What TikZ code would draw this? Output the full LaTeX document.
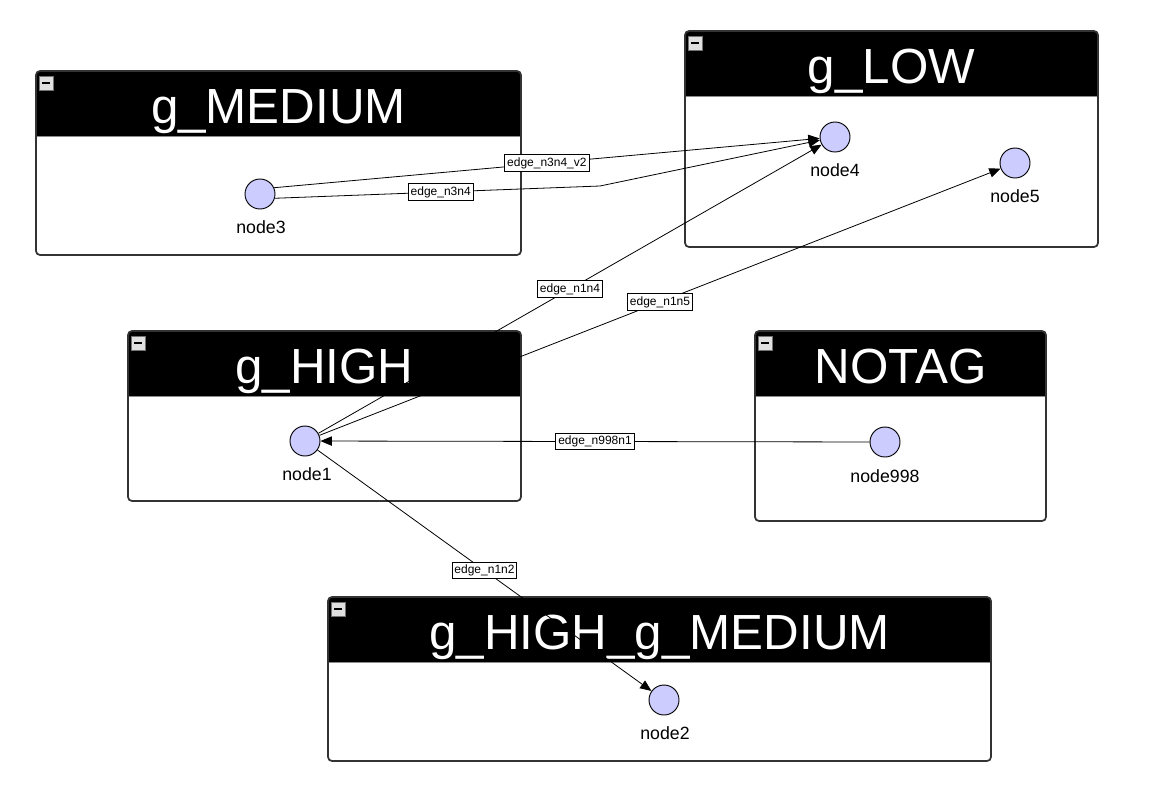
\documentclass[tikz,border=0pt]{standalone}
\usepackage{fontspec}
\setmainfont{Liberation Sans}
\usetikzlibrary{arrows.meta}
\definecolor{vfill}{RGB}{204,204,255}
\tikzset{
  x=0.75pt, y=-0.75pt,
  grpframe/.style={draw=black!80, line width=1.3pt, rounded corners=3pt},
  grptitle/.style={anchor=base, text=white, inner sep=0pt, font=\fontsize{37}{40}\selectfont},
  minusbox/.style={draw=black!55, fill=black!12, minimum size=10.5pt, inner sep=0pt, line width=0.6pt},
  vert/.style={circle, draw=black, fill=vfill, minimum size=22.5pt, inner sep=0pt, line width=0.7pt},
  vlabel/.style={inner sep=0pt, font=\fontsize{13.3}{15}\selectfont},
  elabel/.style={draw=black, fill=white, inner xsep=1.8pt, inner ysep=2pt, line width=0.7pt, font=\fontsize{9}{10}\selectfont},
  conn/.style={draw=black, line width=0.6pt, -{Triangle[length=8.5pt,width=7pt]}},
}
\newcommand\mygroupbox[6]{%
  \begin{scope}
    \clip[rounded corners=3pt] (#1,#2) rectangle (#3,#4);
    \fill[white] (#1,#2) rectangle (#3,#4);
    \fill[black] (#1,#2) rectangle (#3,#2+65);
  \end{scope}
  \draw[black!45, line width=0.75pt] (#1,#2+65) -- (#3,#2+65);
  \draw[grpframe] (#1,#2) rectangle (#3,#4);
  \node[minusbox] (#6m) at (#1+10,#2+12) {};
  \draw[line width=1.6pt] (#1+6,#2+12) -- (#1+14,#2+12);
  \node[grptitle] (#6) at ({(#1+#3)/2},#2+52) {#5};
}
\begin{document}
\begin{tikzpicture}
\useasboundingbox[fill=white] (0,0) rectangle (1160,793);
% groups
\mygroupbox{36}{71}{521}{255}{g\_MEDIUM}{gmed}
\mygroupbox{685}{31}{1098}{247}{g\_LOW}{glow}
\mygroupbox{128}{331}{521}{501}{g\_HIGH}{ghigh}
\mygroupbox{755}{331}{1046}{521}{NOTAG}{gnotag}
\mygroupbox{328}{597}{991}{761}{g\_HIGH\_g\_MEDIUM}{ghm}
% vertices
\node[vert] (n3) at (260,194) {};
\node[vlabel] (l3) at (261,227) {node3};
\node[vert] (n4) at (835,137) {};
\node[vlabel] (l4) at (835,170) {node4};
\node[vert] (n5) at (1015,163) {};
\node[vlabel] (l5) at (1015,196) {node5};
\node[vert] (n1) at (305,441) {};
\node[vlabel] (l1) at (307,474) {node1};
\node[vert] (n998) at (885,442) {};
\node[vlabel] (l998) at (885,476) {node998};
\node[vert] (n2) at (664,700) {};
\node[vlabel] (l2) at (665,733) {node2};
\coordinate (b34) at (600,186);
% connectors
\draw[conn] (n3.24) -- node[elabel, pos=0.5] {edge\_n3n4\_v2} (n4);
\draw[conn] (n3.-16) -- node[elabel, pos=0.51] {edge\_n3n4} (b34) -- (n4);
\draw[conn] (n1) -- node[elabel, pos=0.5] {edge\_n1n4} (n4);
\draw[conn] (n1) -- node[elabel, pos=0.5] {edge\_n1n5} (n5);
\draw[conn] (n998) -- node[elabel, pos=0.5] {edge\_n998n1} (n1);
\draw[conn] (n1) -- node[elabel, pos=0.5] {edge\_n1n2} (n2);
\end{tikzpicture}
\end{document}
